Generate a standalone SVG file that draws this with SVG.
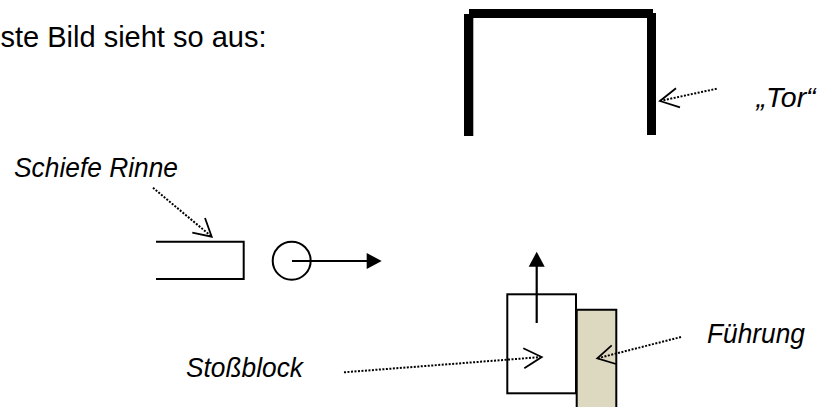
<svg xmlns="http://www.w3.org/2000/svg" width="819" height="407" viewBox="0 0 819 407">
<style>
text{font-family:"Liberation Sans",Arial,sans-serif;font-size:28px;fill:#000}
.i{font-style:italic}
.o{fill:none;stroke:#000;stroke-width:2}
.d{fill:none;stroke:#000;stroke-width:2;stroke-dasharray:2 1.500}
.h{fill:none;stroke:#000;stroke-width:1.800}
.s{fill:none;stroke:#000;stroke-width:2.200}
.b{fill:#000}
</style>
<rect width="819" height="407" fill="#fff"/>
<text x="0.500" y="47" style="font-size:29px">ste Bild sieht so aus:</text>
<g id="tor">
<rect class="b" x="464" y="14" width="9.300" height="122"/>
<rect class="b" x="647" y="13" width="9" height="122"/>
<rect class="b" x="469" y="9" width="184" height="9"/>
<text class="i" x="756.500" y="107" style="font-size:28.5px">„Tor“</text>
</g>
<g id="rinne">
<path class="o" d="M156 241.700H243.700V279H156"/>
<text class="i" x="14" y="177" textLength="164" lengthAdjust="spacingAndGlyphs">Schiefe Rinne</text>
</g>
<g id="kugel"><circle class="o" cx="291.700" cy="260.700" r="19"/></g>
<g id="fuehrung">
<path d="M576.700 407V309.700H616.300V407" fill="#ddd8c0" stroke="#000" stroke-width="2"/>
<text class="i" x="707" y="343" textLength="98" lengthAdjust="spacingAndGlyphs">Führung</text>
</g>
<g id="stossblock">
<rect x="507.300" y="294.300" width="68.700" height="99" fill="#fff" stroke="#000" stroke-width="2"/>
<text class="i" x="186" y="377" textLength="117" lengthAdjust="spacingAndGlyphs">Stoßblock</text>
</g>
<g id="connectors">
<path class="s" d="M292 261H368"/><path class="b" d="M366.700 253L381.700 261L366.700 269Z"/>
<path class="s" d="M536.700 323V265"/><path class="b" d="M528.700 266.700L536.700 251.700L544.700 266.700Z"/>
<path class="d" d="M153 187.700L211.700 236.700"/>
<path class="h" d="M192.300 232.700L211.700 236.700L205 218"/>
<path class="d" d="M344 372.300L541.700 357"/>
<path class="h" d="M523.300 348.300L541.700 357L524.300 368.300"/>
<path class="d" d="M681 337L597.300 358.300"/>
<path class="h" d="M611.700 345.300L597.300 358.300L616 364"/>
<path class="d" d="M716.700 88.700L660 101"/>
<path class="h" d="M676 88.300L660 101L680 107.300"/>
</g>
</svg>
